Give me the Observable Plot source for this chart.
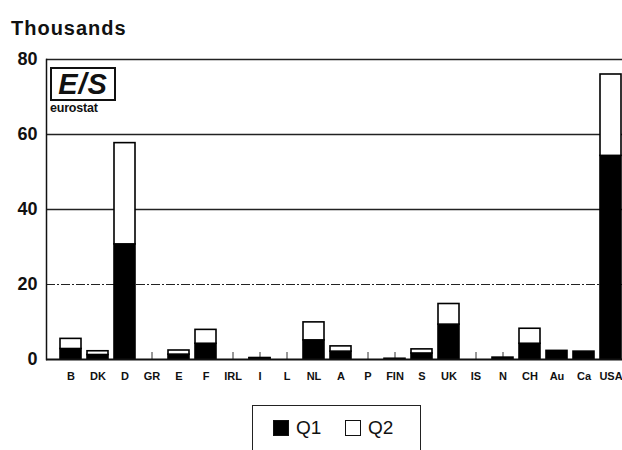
<!DOCTYPE html>
<html>
<head>
<meta charset="utf-8">
<script src="https://cdn.jsdelivr.net/npm/d3@7"></script>
<script src="https://cdn.jsdelivr.net/npm/@observablehq/plot@0.6"></script>
<style>
  html, body { margin: 0; padding: 0; background: #fff; }
  body { width: 622px; height: 450px; overflow: hidden; position: relative; font-family: "Liberation Sans", Arial, sans-serif; }
  #title { position: absolute; left: 11px; top: 17px; font-size: 20px; font-weight: bold; color: #111; letter-spacing: 1px; }
  #chart { position: absolute; left: 0; top: 0; }
  #logo { position: absolute; left: 50px; top: 67px; width: 62px; height: 30px; border: 2px solid #111; 
          font-weight: 900; font-style: italic; font-size: 29px; line-height: 30px; text-align: center; color: #111; letter-spacing: 1px; }
  #logotext { position: absolute; left: 50px; top: 101px; font-size: 12.5px; font-weight: bold; color: #111; letter-spacing: -0.2px; }
  #legend { position: absolute; left: 252px; top: 405px; width: 167px; height: 60px; border: 1.5px solid #222; border-bottom: none; }
  .item { position: absolute; top: 11px; font-size: 19px; color: #111; display: flex; align-items: center; }
  .sw { width: 16px; height: 16px; border: 1.5px solid #111; margin-right: 7px; box-sizing: border-box; }
</style>
</head>
<body>
<div id="chart"></div>
<div id="title">Thousands</div>
<div id="logo">E/S</div>
<div id="logotext">eurostat</div>
<div id="legend"></div>
<script>
const countries = ["B","DK","D","GR","E","F","IRL","I","L","NL","A","P","FIN","S","UK","IS","N","CH","Au","Ca","USA"];
const q1 = [2.8, 1.2, 30.7, 0, 1.3, 4.2, 0, 0.3, 0, 5.1, 2.1, 0, 0.2, 1.6, 9.3, 0, 0.5, 4.2, 2.3, 2.1, 54.3];
const q2 = [2.7, 1.0, 27.0, 0, 1.1, 3.7, 0, 0.1, 0, 4.8, 1.4, 0, 0, 1.1, 5.5, 0, 0, 4.0, 0, 0, 21.7];
const series = ["Q1", "Q2"];
const seriesColors = ["#000", "#fff"];
const yTicks = [0, 20, 40, 60, 80];
const solidGrid = [80, 60, 40];
const dashedGrid = [20];

const rows = [];
countries.forEach((c, i) => {
  rows.push({country: c, quarter: series[0], value: q1[i]});
  rows.push({country: c, quarter: series[1], value: q2[i]});
});

const chart = Plot.plot({
  width: 622,
  height: 395,
  marginLeft: 46,
  marginRight: 0,
  marginTop: 59,
  marginBottom: 36,
  style: {fontFamily: "Liberation Sans, Arial, sans-serif", color: "#111", background: "transparent"},
  x: {domain: countries, paddingInner: 0.22, paddingOuter: 0.24, align: 0.92},
  y: {domain: [0, 80]},
  color: {domain: series, range: seriesColors},
  marks: [
    Plot.ruleY(solidGrid, {stroke: "#222", strokeWidth: 1.3}),
    Plot.ruleY(dashedGrid, {stroke: "#222", strokeWidth: 1.2, strokeDasharray: "9,2,2,2"}),
    Plot.axisX({tickSize: -7, tickPadding: 20, fontSize: 11, fontWeight: "bold", stroke: "#333", strokeWidth: 1}),
    Plot.axisY({ticks: yTicks, tickSize: 0, tickPadding: 9, fontSize: 18, fontWeight: "bold", label: null}),
    Plot.barY(rows, {x: "country", y: "value", fill: "quarter", stroke: "#000", strokeWidth: 1.6}),
    Plot.frame({anchor: "left", stroke: "#111", strokeWidth: 1.5}),
    Plot.ruleY([0], {stroke: "#111", strokeWidth: 2})
  ]
});
chart.querySelectorAll("[aria-label='x-axis label'], [aria-label='y-axis label']").forEach(n => n.remove());
document.getElementById("chart").appendChild(chart);

const legend = document.getElementById("legend");
const lefts = [20, 92];
series.forEach((s, i) => {
  const it = document.createElement("div");
  it.className = "item";
  it.style.left = lefts[i] + "px";
  const sw = document.createElement("span");
  sw.className = "sw";
  sw.style.background = seriesColors[i];
  it.appendChild(sw);
  it.appendChild(document.createTextNode(s));
  legend.appendChild(it);
});
</script>
</body>
</html>
